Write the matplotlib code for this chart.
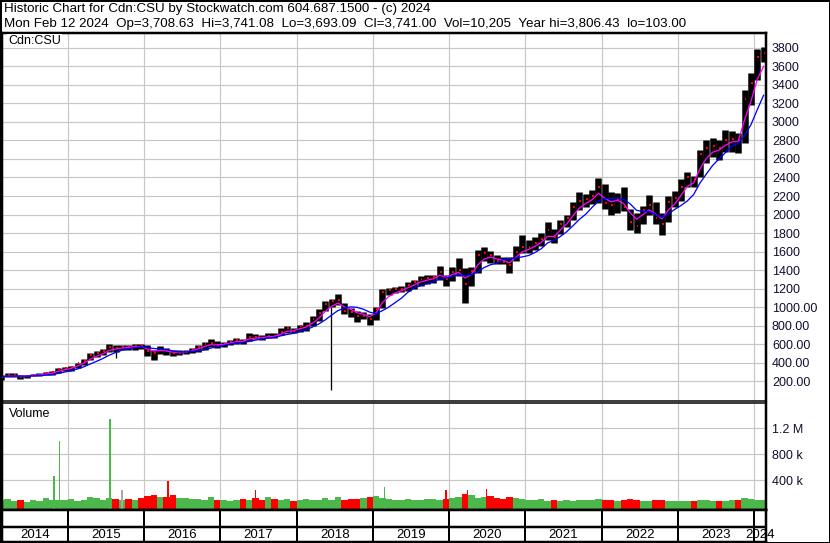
import numpy as np
import pandas as pd
import matplotlib
matplotlib.use("Agg")
import matplotlib.pyplot as plt
from matplotlib.patches import Rectangle

plt.rcParams['font.family'] = ['Liberation Sans', 'DejaVu Sans']

W, H = 830, 543

# monthly bars, Feb 2014 .. Feb 2024
months = pd.period_range("2014-02", "2024-02", freq="M")

high = [265, 290, 285, 270, 265, 280, 285, 300, 310, 340, 355,
        365, 400, 440, 500, 520, 545, 600, 585, 590, 590, 600, 600,
        590, 540, 580, 555, 540, 530, 535, 560, 585, 625, 650, 630,
        620, 645, 665, 655, 715, 705, 700, 720, 715, 775, 790, 775,
        810, 840, 900, 975, 1060, 1090, 1140, 1040, 985, 960, 945, 920,
        1000, 1190, 1210, 1220, 1225, 1265, 1295, 1330, 1345, 1350, 1440, 1350,
        1430, 1530, 1420, 1430, 1620, 1650, 1610, 1560, 1540, 1540, 1660, 1780,
        1725, 1760, 1800, 1920, 1840, 1940, 2000, 2130, 2240, 2220, 2260, 2390,
        2330, 2240, 2230, 2300, 2060, 2020, 2090, 2210, 2130, 2020, 2200, 2250,
        2380, 2460, 2420, 2700, 2810, 2830, 2800, 2910, 2900, 2880, 3350, 3530,
        3790, 3806]
low = [215, 240, 245, 225, 230, 250, 255, 260, 265, 290, 305,
       310, 340, 370, 430, 460, 480, 510, 510, 530, 535, 540, 545,
       470, 425, 490, 480, 470, 480, 490, 500, 515, 540, 570, 560,
       565, 585, 595, 600, 630, 650, 645, 665, 665, 695, 720, 715,
       735, 745, 800, 850, 960, 1000, 1020, 920, 890, 840, 865, 810,
       860, 990, 1130, 1150, 1160, 1170, 1200, 1230, 1245, 1260, 1290, 1230,
       1280, 1340, 1045, 1230, 1370, 1500, 1480, 1460, 1460, 1370, 1500, 1580,
       1585, 1620, 1660, 1720, 1690, 1790, 1870, 1940, 2050, 2080, 2110, 2120,
       2060, 2000, 2020, 2040, 1830, 1800, 1900, 2000, 1900, 1780, 1920, 2080,
       2150, 2300, 2300, 2400, 2560, 2620, 2590, 2680, 2680, 2660, 2770, 3180,
       3450, 3650]
close = [245, 260, 262, 245, 250, 270, 270, 285, 295, 325, 340,
         350, 390, 420, 480, 500, 520, 570, 560, 570, 565, 580, 575,
         520, 500, 540, 520, 500, 505, 515, 540, 570, 600, 610, 590,
         600, 625, 640, 630, 680, 675, 670, 690, 685, 730, 770, 745,
         790, 800, 870, 930, 1030, 1060, 1080, 960, 950, 900, 905, 870,
         980, 1160, 1180, 1190, 1200, 1240, 1270, 1300, 1310, 1320, 1380, 1300,
         1380, 1400, 1250, 1390, 1560, 1580, 1560, 1500, 1490, 1450, 1600, 1650,
         1650, 1690, 1740, 1830, 1760, 1900, 1960, 2080, 2150, 2170, 2200, 2300,
         2120, 2100, 2170, 2080, 1920, 1880, 2050, 2100, 1960, 1900, 2140, 2180,
         2300, 2400, 2380, 2650, 2720, 2740, 2720, 2800, 2820, 2800, 3250, 3420,
         3700, 3741]
volume_k = [90, 110, 80, 100, 70, 95, 85, 120, 100, 95, 90,
            110, 85, 100, 140, 120, 95, 130, 110, 90, 115, 100, 130,
            160, 180, 150, 140, 170, 120, 130, 105, 110, 95, 150, 100,
            90, 85, 100, 110, 95, 120, 90, 140, 110, 95, 110, 85,
            100, 110, 90, 95, 120, 100, 140, 95, 110, 105, 120, 150,
            160, 130, 110, 100, 95, 110, 90, 100, 105, 115, 100, 110,
            120, 150, 190, 170, 130, 140, 160, 120, 110, 150, 130, 110,
            100, 90, 110, 85, 95, 80, 90, 85, 100, 95, 90, 110,
            100, 95, 85, 90, 110, 100, 80, 85, 90, 95, 80, 75,
            80, 75, 85, 90, 100, 80, 75, 85, 90, 100, 120, 110,
            100, 90]

# single-day outliers (thin marks)
wick_dates = [2015.63, 2018.45]
wick_lows = [450, 103]
spike_dates = [2014.82, 2014.89, 2015.55, 2015.71, 2016.31, 2017.46, 2019.15, 2019.96, 2020.24, 2020.49]
spike_k = [470, 1010, 1340, 250, 390, 254, 296, 254, 254, 268]
spike_colors = ['#4cb84c', '#4cb84c', '#4cb84c', '#a8a8a8', 'red', 'red', '#4cb84c', 'red', 'red', 'red']

years = list(range(2014, 2025))
price_ticks = list(range(200, 3801, 200))
vol_ticks = [400, 800, 1200]
vol_labels = ['400 k', '800 k', '1.2 M']

header1 = "Historic Chart for Cdn:CSU by Stockwatch.com 604.687.1500 - (c) 2024"
header2 = ("Mon Feb 12 2024  Op=3,708.63  Hi=3,741.08  Lo=3,693.09  Cl=3,741.00  "
           "Vol=10,205  Year hi=3,806.43  lo=103.00")

df = pd.DataFrame({"high": high, "low": low, "close": close, "vol": volume_k})
df["x"] = months.year + (months.month - 0.5) / 12
df["ma_fast"] = df["close"].ewm(span=3, adjust=False).mean()
df["ma_slow"] = df["close"].rolling(6, min_periods=1).mean()
df["up"] = df["close"].diff().fillna(1) >= 0

XMIN, XMAX = 2014.134, 2024.157
GRID = '#c8c8c8'
PX = 72 / 100  # one pixel in points

fig = plt.figure(figsize=(W / 100, H / 100), dpi=100)


def px_axes(x0, y0, x1, y1):
    return fig.add_axes([x0 / W, 1 - y1 / H, (x1 - x0) / W, (y1 - y0) / H])


# price panel
ax = px_axes(2, 33, 766, 401)
ax.set_xlim(XMIN, XMAX)
ax.set_ylim(-16, 3962)
for yv in price_ticks:
    ax.axhline(yv, color=GRID, lw=1.2 * PX, zorder=0)
for yr in years[1:]:
    ax.axvline(yr, color=GRID, lw=1.2 * PX, zorder=0)

ax.vlines(df["x"], df["low"], df["high"], color='black', lw=6.5 * PX, zorder=2)
ax.vlines(wick_dates, wick_lows, [df.loc[(df["x"] - d).abs().idxmin(), "low"] for d in wick_dates],
          color='black', lw=1.3 * PX, zorder=2)
ax.hlines(df["close"], df["x"], df["x"] + 0.3 / 12, color='red', lw=2 * PX, zorder=3)
ax.plot(df["x"], df["ma_fast"], color='#ff00ff', lw=1.3 * PX, zorder=4)
ax.plot(df["x"], df["ma_slow"], color='#0000ff', lw=1.3 * PX, zorder=4)

ax.set_xticks([])
ax.yaxis.tick_right()
ax.set_yticks(price_ticks)
ax.set_yticklabels([f"{v:.2f}" if v <= 1000 else f"{v}" for v in price_ticks])
ax.tick_params(axis='y', length=0, pad=4.3, labelsize=9, labelcolor='#101030')
for s in ['left', 'top', 'right']:
    ax.spines[s].set_linewidth(2.5 * PX)
ax.spines['bottom'].set_linewidth(1.5 * PX)
ax.text(0.008, 0.978, "Cdn:CSU", transform=ax.transAxes, fontsize=9, va='center', ha='left',
        bbox=dict(facecolor='white', edgecolor='none', pad=0.5))

# volume panel
vax = px_axes(2, 403, 766, 510)
vax.set_xlim(XMIN, XMAX)
vlo = -57
vax.set_ylim(vlo, 1589)
for yv in vol_ticks:
    vax.axhline(yv, color=GRID, lw=1.2 * PX, zorder=0)
for yr in years[1:]:
    vax.axvline(yr, color=GRID, lw=1.2 * PX, zorder=0)
vcolors = np.where(df["up"], '#4cb84c', 'red')
vax.bar(df["x"], df["vol"] - vlo, bottom=vlo, width=1 / 12, color=vcolors, lw=0, zorder=2)
vax.bar(spike_dates, np.array(spike_k) - vlo, bottom=vlo, width=0.022, color=spike_colors, lw=0, zorder=3)
vax.set_xticks([])
vax.yaxis.tick_right()
vax.set_yticks(vol_ticks)
vax.set_yticklabels(vol_labels)
vax.tick_params(axis='y', length=0, pad=4.3, labelsize=9, labelcolor='#101030')
vax.spines['left'].set_linewidth(2.5 * PX)
vax.spines['right'].set_linewidth(2.5 * PX)
vax.spines['top'].set_linewidth(1.5 * PX)
vax.spines['bottom'].set_linewidth(2.5 * PX)
vax.text(0.009, 0.9, "Volume", transform=vax.transAxes, fontsize=9, va='center')

# year strip
yax = px_axes(2, 510, 766, 542)
yax.set_xlim(XMIN, XMAX)
yax.set_ylim(0, 1)
yax.axhline(0.47, color='black', lw=2.5 * PX)
for yr in years[1:]:
    yax.axvline(yr, color='black', lw=2 * PX)
for yr in years:
    a, b = max(yr, XMIN), min(yr + 1, XMAX)
    yax.text((a + b) / 2, 0.23, str(yr), ha='center', va='center', fontsize=9.5)
yax.set_xticks([])
yax.set_yticks([])
for s in yax.spines.values():
    s.set_linewidth(2.5 * PX)

# header
fig.text(4 / W, 1 - 9 / H, header1, fontsize=9.6, va='center')
fig.text(4 / W, 1 - 24 / H, header2, fontsize=9.6, va='center')
fig.add_artist(Rectangle((0, 0), 1, 1, transform=fig.transFigure, fill=False,
                         edgecolor='black', lw=3 * PX))

fig.savefig("out.png", dpi=100)
